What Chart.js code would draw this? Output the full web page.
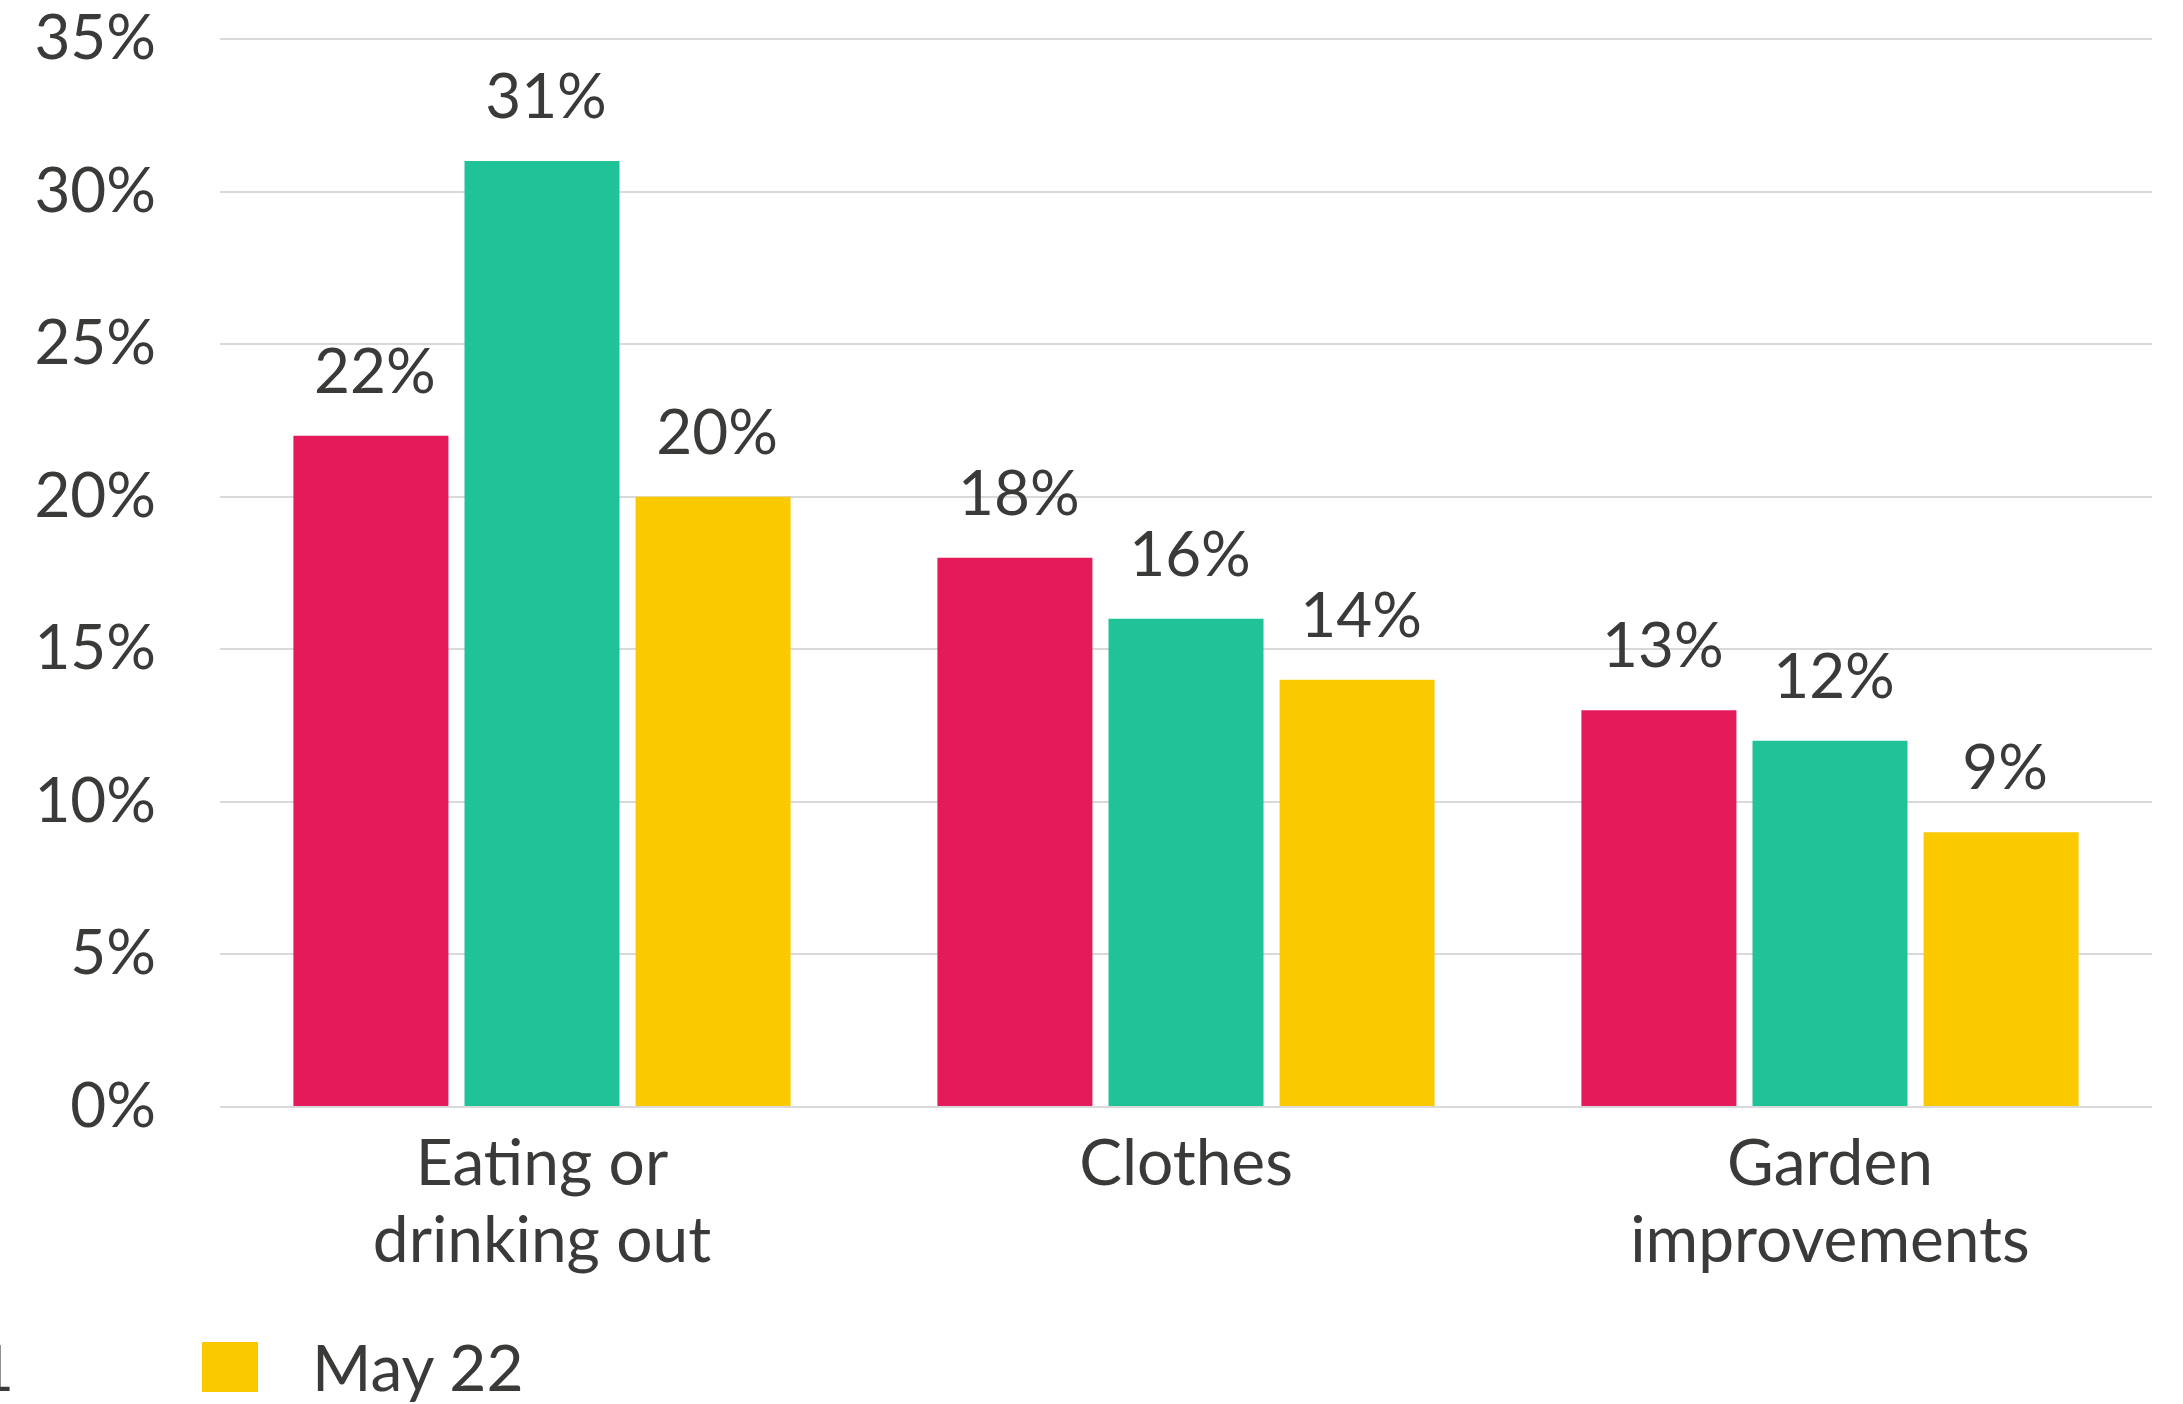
<!DOCTYPE html>
<html>
<head>
<meta charset="utf-8">
<script src="https://cdn.jsdelivr.net/npm/chart.js@4.4.1/dist/chart.umd.min.js"></script>
<style>
  html, body { margin: 0; padding: 0; background: #fff; overflow: hidden; }
  #wrap { position: relative; width: 2183px; height: 1404px; }
  #legend {
    position: absolute; top: 1328px; left: 0; display: flex; align-items: center;
    font-family: Lato, "Noto Sans", sans-serif; font-size: 64px; color: #3a3b38;
    white-space: nowrap;
  }
  .item { display: flex; align-items: center; margin-right: 188px; }
  .box { width: 56px; height: 50px; margin-right: 54px; }
</style>
</head>
<body>
<div id="wrap">
  <canvas id="chart" width="2183" height="1404"></canvas>
  <div id="legend"></div>
</div>
<script>
// ------------------------------------
// ข้อมูลกราฟ
// ------------------------------------
const categories = [['Eating or', 'drinking out'], 'Clothes', ['Garden', 'improvements']];
const seriesLabels = ['Feb 21', 'Nov 21', 'May 22'];
const seriesColors = ['#e51a5a', '#20c397', '#fbc900'];
const firstSeries = [22, 18, 13];
const secondSeries = [31, 16, 12];
const thirdSeries = [20, 14, 9];
const yTicks = [0, 5, 10, 15, 20, 25, 30, 35];

const textColor = '#3a3b38';
const fontFamily = 'Lato, "Noto Sans", sans-serif';

// วาดตัวเลขเหนือแท่ง
const valueLabels = {
  id: 'valueLabels',
  afterDatasetsDraw(chart) {
    const ctx = chart.ctx;
    ctx.save();
    ctx.font = `62px ${fontFamily}`;
    ctx.fillStyle = textColor;
    ctx.textAlign = 'center';
    ctx.textBaseline = 'alphabetic';
    chart.data.datasets.forEach((ds, i) => {
      chart.getDatasetMeta(i).data.forEach((bar, j) => {
        ctx.fillText(ds.data[j] + '%', bar.x + 4, bar.y - 43);
      });
    });
    ctx.restore();
  }
};

const ctx = document.getElementById('chart').getContext('2d');
const chart = new Chart(ctx, {
  type: 'bar',
  data: {
    labels: categories,
    datasets: [firstSeries, secondSeries, thirdSeries].map((d, i) => ({
      label: seriesLabels[i],
      data: d,
      backgroundColor: seriesColors[i],
      categoryPercentage: 0.797,
      barPercentage: 0.906
    }))
  },
  options: {
    responsive: false,
    animation: false,
    layout: { padding: { top: 39, right: 31, bottom: 0, left: 0 } },
    plugins: { legend: { display: false }, tooltip: { enabled: false } },
    scales: {
      x: {
        grid: { display: false },
        border: { display: false },
        ticks: {
          color: textColor,
          font: { family: fontFamily, size: 64, lineHeight: 1.2 },
          padding: 11,
          maxRotation: 0,
          autoSkip: false
        },
        afterFit: (s) => { s.height = 297; s.paddingLeft = 0; s.paddingRight = 0; }
      },
      y: {
        min: 0,
        max: 35,
        afterBuildTicks: (s) => { s.ticks = yTicks.map(v => ({ value: v })); },
        grid: { color: '#d9d9d9', lineWidth: 2, drawTicks: false },
        border: { display: false },
        ticks: {
          color: textColor,
          font: { family: fontFamily, size: 62 },
          padding: 64,
          callback: (v) => v + '%'
        },
        afterFit: (s) => { s.width = 220; s.paddingTop = 0; s.paddingBottom = 0; }
      }
    }
  },
  plugins: [valueLabels]
});

// ------------------------------------
// Legend แบบ HTML (ถูกตัดด้านซ้ายเหมือนต้นฉบับ)
// ------------------------------------
const legendEl = document.getElementById('legend');
chart.data.datasets.forEach((ds) => {
  const item = document.createElement('div');
  item.className = 'item';
  item.innerHTML = `<span class="box" style="background:${ds.backgroundColor}"></span><span>${ds.label}</span>`;
  legendEl.appendChild(item);
});
const lastItem = legendEl.lastElementChild;
legendEl.style.left = (202 - lastItem.offsetLeft) + 'px';
</script>
</body>
</html>
